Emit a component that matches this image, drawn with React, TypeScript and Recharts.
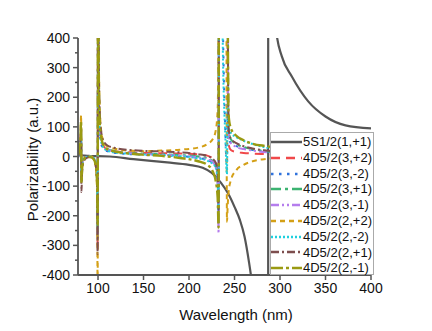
import { LineChart, Line, XAxis, YAxis, Legend, Label } from "recharts";

// wavelength grid (nm) shared by the 4D5/2 curves
const wl4D = [
  78, 79.5, 80.8, 81.4, 81.8, 82.5, 84, 87, 91, 95, 97.5, 99, 99.6, 100.1, 100.6, 102, 105, 110, 120, 135,
  150, 170, 190, 210, 220, 226, 229.5, 231.5, 232.5, 233.2, 234, 237, 240, 241.7, 242.6, 243.5, 246, 252,
  260, 270, 285, 300, 330, 400,
];

const s3p2 = [0, 15, 45, 80, -70, -30, -10, -2, 0, -6, -25, -90, -300, 800, 300, 100, 40, 24, 17, 14, 12, 11, 10, 7, 3, -8, -25, -45, -110, 2000, 2500, 3000, 3000, 3000, 150, 40, 22, 15, 12, 10, 8, 6, 4, 2];
const s3m2 = [0, 8, 28, 50, -50, -20, -6, -1, 0, -4, -18, -60, -240, 650, 240, 75, 30, 18, 12, 8, 6, 4, 1, -5, -12, -22, -35, -65, -170, 2000, 1500, 500, 80, -40, 180, 65, 45, 35, 28, 22, 16, 12, 8, 4];
const s3p1 = [0, 18, 55, 95, -85, -40, -12, -3, 0, -6, -28, -95, -280, 850, 320, 110, 45, 26, 17, 12, 10, 8, 5, 0, -6, -15, -35, -80, -220, 2000, 2500, 3000, 3000, 3000, 500, 90, 58, 42, 32, 25, 18, 13, 9, 5];
const s3m1 = [0, 14, 48, 85, -75, -35, -10, -2, 0, -5, -26, -90, -260, 820, 300, 100, 42, 24, 16, 11, 8, 6, 3, -3, -9, -18, -40, -90, -260, 2000, 2500, 3000, 3000, 3000, 450, 70, 45, 32, 25, 20, 14, 10, 7, 4];
const s2p2 = [0, 30, 80, 140, -80, -35, -10, 0, 2, -5, -35, -120, -500, 1200, 450, 150, 60, 35, 25, 20, 18, 20, 23, 30, 42, 58, 90, 160, 500, 3000, 3000, 3000, 3000, -220, -160, -120, -80, -46, -28, -16, -8, -4, -1, 2];
const s2m2 = [0, 10, 35, 60, -60, -25, -8, -2, 0, -4, -20, -70, -250, 700, 260, 85, 35, 20, 13, 9, 7, 5, 1, -6, -14, -25, -38, -75, -190, 2000, 1500, 400, 60, -60, 200, 95, 80, 65, 53, 42, 30, 22, 14, 6];
const s2p1 = [-5, 20, 60, 100, -120, -55, -20, -6, -2, -8, -30, -100, -330, 1000, 400, 140, 60, 38, 28, 22, 19, 17, 14, 8, 2, -8, -22, -55, -180, 2000, 2500, 3000, 3000, 3000, 600, 95, 60, 45, 35, 27, 20, 15, 10, 5];
const s2m1 = [5, 25, 70, 120, -90, -40, -12, -3, -2, -8, -30, -85, -230, 900, 350, 110, 45, 25, 16, 10, 6, 2, -5, -16, -28, -50, -85, -140, -240, 2000, 2500, 3000, 3000, 3000, 500, 140, 95, 70, 55, 43, 35, 28, 20, 12];

// 5S1/2 curve, with its pole near 287 nm
const wl5S = [78, 79, 81, 85, 90, 95, 100, 113, 139, 176, 200, 215, 225, 235, 243, 250, 256, 261, 266, 268, 272, 278, 283, 286, 286.8, 287.2, 288, 291, 294, 296, 302, 313, 331, 350, 372, 400];
const s5S = [55, 15, 5, 3, 2, 1, 1, 0, -9, -20, -28, -38, -55, -88, -125, -170, -215, -270, -358, -400, -520, -800, -1600, -6000, -40000, 40000, 6000, 1200, 600, 420, 338, 270, 186, 135, 105, 95];

const xTicks = [100, 150, 200, 250, 300, 350, 400];
const yTicks = [-400, -350, -300, -250, -200, -150, -100, -50, 0, 50, 100, 150, 200, 250, 300, 350, 400];

const series = [
  { key: "s5S", name: "5S1/2(1,+1)", wl: wl5S, values: s5S, color: "#555555", dash: undefined, width: 2.2 },
  { key: "s3p2", name: "4D5/2(3,+2)", wl: wl4D, values: s3p2, color: "#f0484a", dash: "9 6", width: 2 },
  { key: "s3m2", name: "4D5/2(3,-2)", wl: wl4D, values: s3m2, color: "#2f72dc", dash: "2.5 5.5", width: 2 },
  { key: "s3p1", name: "4D5/2(3,+1)", wl: wl4D, values: s3p1, color: "#3cb371", dash: "10 4 3 4", width: 2 },
  { key: "s3m1", name: "4D5/2(3,-1)", wl: wl4D, values: s3m1, color: "#b57ded", dash: "8 3 2 3 2 3", width: 2 },
  { key: "s2p2", name: "4D5/2(2,+2)", wl: wl4D, values: s2p2, color: "#d4a017", dash: "5 4", width: 2 },
  { key: "s2m2", name: "4D5/2(2,-2)", wl: wl4D, values: s2m2, color: "#1fd0de", dash: "2 2", width: 2 },
  { key: "s2p1", name: "4D5/2(2,+1)", wl: wl4D, values: s2p1, color: "#7d4e4e", dash: "8 3 2 3", width: 2 },
  { key: "s2m1", name: "4D5/2(2,-1)", wl: wl4D, values: s2m1, color: "#9a9a12", dash: "12 3 3 3", width: 2.4 },
];

const toPoints = (wl: number[], values: number[]) => wl.map((x, i) => ({ x, y: values[i] }));

const AXIS = "#555";
const TICK = 5;
const GAP = 3;

const YTick = ({ x, y, payload }: any) => {
  const major = payload.value % 100 === 0;
  const ax = x + TICK + GAP;
  return (
    <g>
      <line x1={ax} x2={ax - (major ? 5 : 3)} y1={y} y2={y} stroke={AXIS} strokeWidth={1.5} />
      {major && (
        <text x={x} y={y} dy={5} textAnchor="end" fontSize={14} fill="#111">
          {payload.value}
        </text>
      )}
    </g>
  );
};

const LegendBox = () => (
  <div
    style={{
      width: 104,
      height: 143,
      boxSizing: "border-box",
      border: "1px solid #aaa",
      background: "#fff",
      paddingTop: 1,
    }}
  >
    {series.map((s) => (
      <div key={s.key} style={{ display: "flex", alignItems: "center", height: 15.8 }}>
        <svg width={31} height={16} style={{ flex: "none" }}>
          <line x1={0} x2={31} y1={8} y2={8} stroke={s.color} strokeWidth={2.5} strokeDasharray={s.dash} />
        </svg>
        <span style={{ fontSize: 13, marginLeft: 1, color: "#111", whiteSpace: "nowrap", lineHeight: "15.8px" }}>
          {s.name}
        </span>
      </div>
    ))}
  </div>
);

export default function App() {
  return (
    <div style={{ width: 432, height: 331, position: "relative", background: "#fff", fontFamily: "'Liberation Sans', Arial, sans-serif" }}>
      <style>{`body{margin:0}`}</style>
      <LineChart width={432} height={331} margin={{ top: 38, right: 61, bottom: 0, left: 0 }}>
        <XAxis
          type="number"
          dataKey="x"
          domain={[78, 400]}
          ticks={xTicks}
          allowDataOverflow
          height={56}
          axisLine={{ stroke: AXIS, strokeWidth: 1.8 }}
          tickLine={{ stroke: AXIS, strokeWidth: 1.5 }}
          tickSize={TICK}
          tickMargin={GAP}
          tick={{ fontSize: 14, fill: "#111" }}
        >
          <Label
            content={({ viewBox }: any) => (
              <text x={viewBox.x + 158} y={viewBox.y + 45} textAnchor="middle" fontSize={15} fill="#111">
                Wavelength (nm)
              </text>
            )}
          />
        </XAxis>
        <YAxis
          type="number"
          dataKey="y"
          domain={[-400, 400]}
          ticks={yTicks}
          allowDataOverflow
          width={78}
          axisLine={{ stroke: AXIS, strokeWidth: 1.8 }}
          tickLine={false}
          tickSize={TICK}
          tickMargin={GAP}
          tick={<YTick />}
          interval={0}
        >
          <Label
            content={({ viewBox }: any) => (
              <text
                transform={`translate(${viewBox.x + 38}, ${viewBox.y + viewBox.height / 2 + 3}) rotate(-90)`}
                textAnchor="middle"
                fontSize={15}
                fill="#111"
              >
                Polarizability (a.u.)
              </text>
            )}
          />
        </YAxis>
        {series.map((s) => (
          <Line
            key={s.key}
            data={toPoints(s.wl, s.values)}
            dataKey="y"
            name={s.name}
            type="monotone"
            stroke={s.color}
            strokeWidth={s.width}
            strokeDasharray={s.dash}
            dot={false}
            activeDot={false}
            isAnimationActive={false}
          />
        ))}
        <Legend
          layout="vertical"
          align="center"
          verticalAlign="middle"
          wrapperStyle={{ left: 270, top: 132, width: 104, height: 143 }}
          content={<LegendBox />}
        />
      </LineChart>
    </div>
  );
}
